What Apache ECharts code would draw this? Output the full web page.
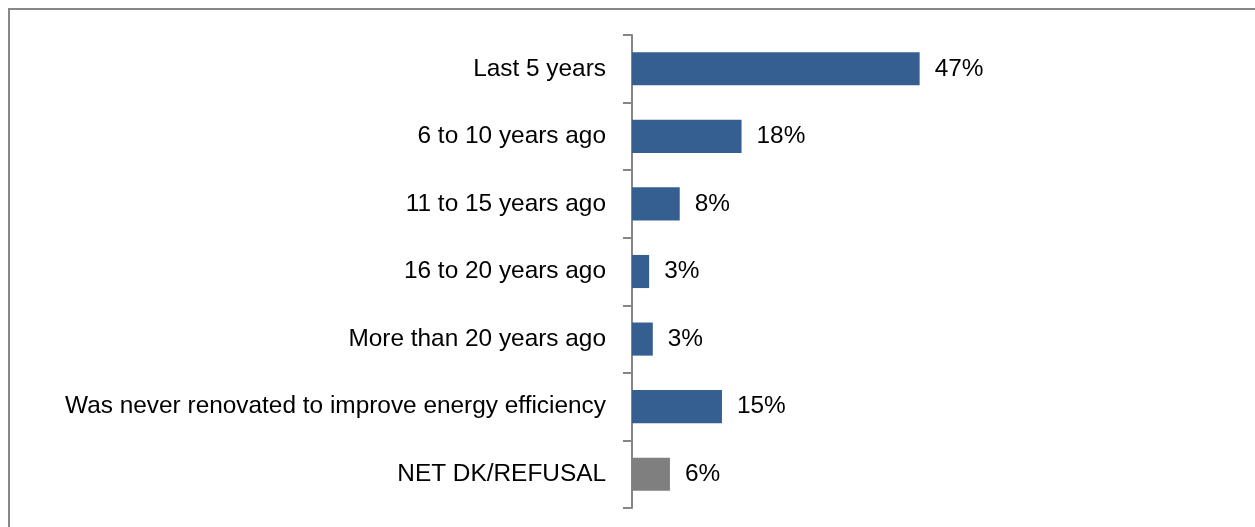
<!DOCTYPE html>
<html>
<head>
<meta charset="utf-8">
<script src="https://cdn.jsdelivr.net/npm/echarts@6/dist/echarts.min.js"></script>
<style>
  html, body { margin: 0; padding: 0; background: #fff; }
  #chart { width: 1255px; height: 527px; }
</style>
</head>
<body>
<div id="chart"></div>
<script>
// 类目 (top to bottom)
const categories = [
    'Last 5 years',
    '6 to 10 years ago',
    '11 to 15 years ago',
    '16 to 20 years ago',
    'More than 20 years ago',
    'Was never renovated to improve energy efficiency',
    'NET DK/REFUSAL'
]
// share of respondents, %
const shares = [47, 17.9, 7.8, 2.8, 3.4, 14.7, 6.2]

const chart = echarts.init(document.getElementById('chart'))

const blue = '#365F91'
const grey = '#7F7F7F'
const fontFamily = '"Liberation Sans", Arial, sans-serif'

const option = {
    backgroundColor: '#fff',
    animation: false,
    textStyle: { fontFamily: fontFamily },
    grid: {
        left: 632,
        right: 11,
        top: 35,
        bottom: 19
    },
    xAxis: {
        type: 'value',
        min: 0,
        max: 100,
        show: false
    },
    yAxis: {
        type: 'category',
        data: categories,
        inverse: true,
        axisLine: { show: true, lineStyle: { color: '#868686', width: 2 } },
        axisTick: { show: true, length: 9, lineStyle: { color: '#868686', width: 2 } },
        axisLabel: {
            margin: 26,
            color: '#000',
            fontSize: 24.4,
            fontFamily: fontFamily
        }
    },
    series: [{
        type: 'bar',
        data: shares,
        barCategoryGap: '51%',
        itemStyle: {
            color: p => p.name === 'NET DK/REFUSAL' ? grey : blue
        },
        label: {
            show: true,
            position: 'right',
            distance: 15,
            color: '#000',
            fontSize: 24.4,
            fontFamily: fontFamily,
            formatter: p => Math.round(p.value) + '%'
        }
    }],
    // 外框
    graphic: [{
        type: 'rect',
        shape: { x: 9, y: 9, width: 1300, height: 600 },
        style: { fill: 'none', stroke: '#878787', lineWidth: 2 },
        silent: true
    }]
}
chart.setOption(option)
</script>
</body>
</html>
